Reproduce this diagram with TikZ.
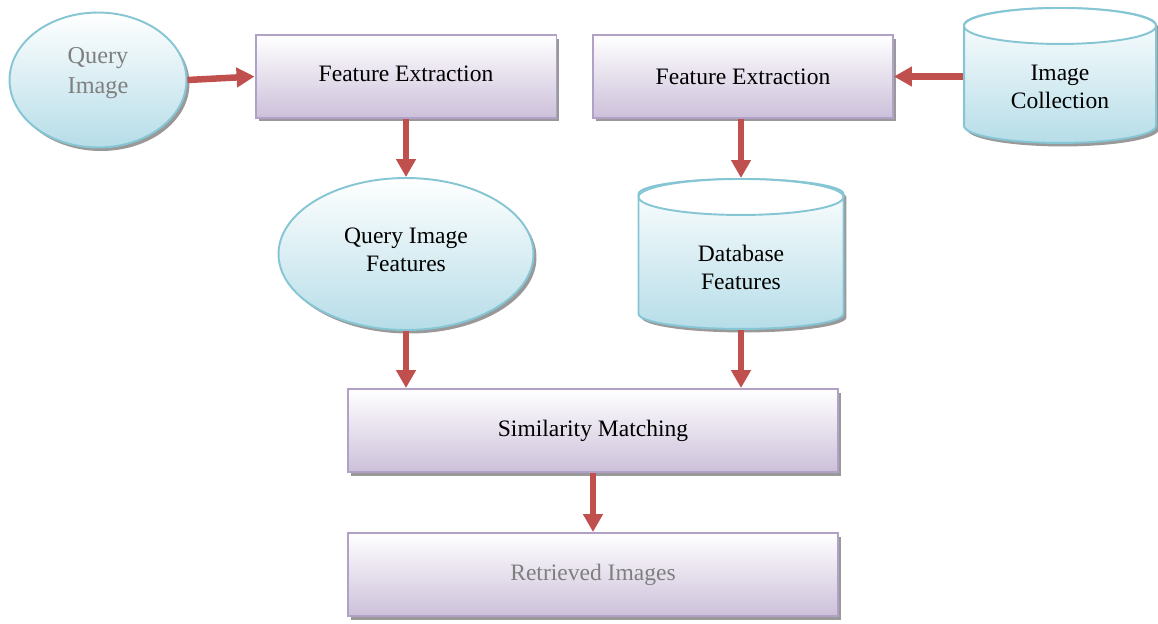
\documentclass[tikz,border=0pt]{standalone}
\usepackage{fontspec}
\setmainfont{Liberation Serif}
\usetikzlibrary{shapes.geometric,shadows,arrows.meta}

\definecolor{flowred}{HTML}{C0504D}
\definecolor{boxline}{HTML}{B2A1C7}
\definecolor{boxfill}{HTML}{CCC0DA}
\definecolor{storeline}{HTML}{86C6D4}
\definecolor{storefill}{HTML}{B6DDE8}
\definecolor{faded}{HTML}{7F7F7F}

\begin{document}
\begin{tikzpicture}[x=0.02cm, y=-0.02cm,
	every node/.style={font=\fontsize{13.4}{16}\selectfont, align=center, inner sep=0pt},
	boxshadow/.style={drop shadow={shadow xshift=0.06cm, shadow yshift=-0.07cm, fill=black!40, opacity=1}},
	procbox/.style={rectangle, draw=boxline, line width=1.1pt, top color=white, bottom color=boxfill, boxshadow, minimum height=1.66cm},
	roundbox/.style={ellipse, draw=storeline, line width=1.1pt, top color=white, bottom color=storefill, boxshadow},
	dbstore/.style={cylinder, shape border rotate=90, aspect=0.35, anchor=top, draw=storeline, line width=1.1pt, top color=white, bottom color=storefill, boxshadow},
	dbend/.style={ellipse, draw=storeline, line width=1.1pt, fill=white, anchor=north, minimum height=0.72cm},
	flow/.style={draw=flowred, line width=3.7pt, -{Triangle[width=0.38cm, length=0.36cm]}}]
	\useasboundingbox (0, 0) rectangle (1158, 623);
	% Boxes, stores and arrows:
	\node[roundbox, minimum width=3.54cm, minimum height=2.7cm, text=faded, font=\fontsize{13.8}{17}\selectfont, text depth=10.8pt] (qi) at (98, 80) {Query\\Image};
	\node[procbox, minimum width=6.02cm, text depth=0.12cm] (fe1) at (406, 76.5) {Feature Extraction};
	\node[procbox, minimum width=6.0cm] (fe2) at (743, 76.5) {Feature Extraction};
	\node[dbstore, minimum width=3.84cm, minimum height=2.7cm, text height=27.7pt] (ic) at (1060, 7) {Image\\Collection};
	\node[dbend, minimum width=3.84cm] (ictop) at (ic.top) {};
	\node[roundbox, minimum width=5.1cm, minimum height=3.04cm, text depth=0.18cm] (qif) at (406, 254) {Query Image\\Features};
	\node[dbstore, minimum width=4.1cm, minimum height=3.0cm, text height=31.3pt] (dbf) at (741, 178) {Database\\Features};
	\node[dbend, minimum width=4.1cm] (dbtop) at (dbf.top) {};
	\node[procbox, minimum width=9.8cm] (sm) at (593, 430.5) {Similarity Matching};
	\node[procbox, minimum width=9.8cm, text=faded] (ri) at (593, 574.5) {Retrieved Images};
	\draw[flow] (qi.east) -- (fe1.west);
	\draw[flow] (ic.west |- fe2.east) -- (fe2.east);
	\draw[flow] (fe1.south) -- (qif.north);
	\draw[flow] (fe2.south -| dbf.north) -- (dbf.north);
	\draw[flow] (qif.south) -- (qif.south |- sm.north);
	\draw[flow] (dbf.south) -- (dbf.south |- sm.north);
	\draw[flow] (sm.south) -- (ri.north);
\end{tikzpicture}
\end{document}
